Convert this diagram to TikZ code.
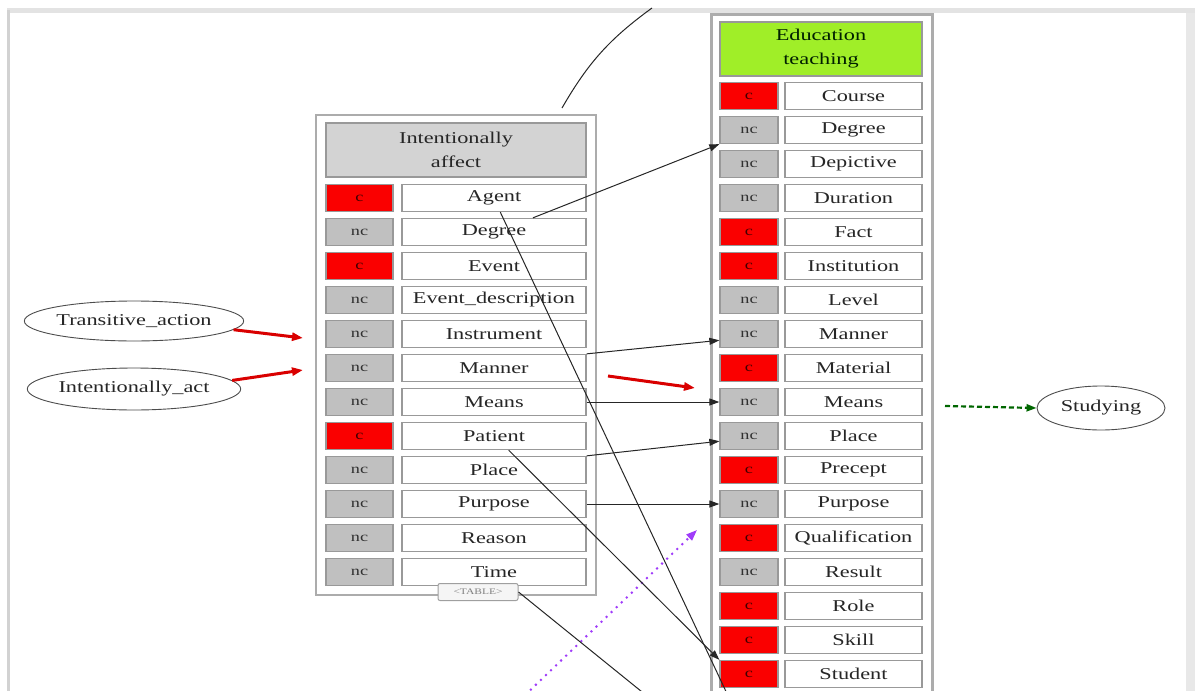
\documentclass[tikz,border=0pt]{standalone}
\usepackage{fontspec}
\setmainfont{Liberation Serif}[FakeStretch=1.35]
\usetikzlibrary{arrows.meta,positioning,shapes.geometric}
\definecolor{cred}{RGB}{250,0,0}
\definecolor{cgray}{RGB}{192,192,192}
\definecolor{hgray}{RGB}{211,211,211}
\definecolor{hgreen}{RGB}{160,238,40}
\definecolor{violetline}{RGB}{160,60,250}

\begin{document}
\begin{tikzpicture}[
  x=1pt, y=-1pt,
  every node/.style={align=center, inner sep=0pt, font=\fontsize{16.5}{24}\selectfont, text=black!85},
  frame/.style={rectangle, draw=gray!65, line width=2.2pt, fill=white},
  header/.style={rectangle, draw=gray!80, line width=1.4pt, minimum height=54pt},
  keycell/.style={rectangle, draw=gray!80, line width=1.3pt, minimum height=27pt, font=\fontsize{13.5}{15}\selectfont},
  field/.style={rectangle, draw=gray!80, line width=1.3pt, fill=white, minimum height=27pt},
  fe/.style={ellipse, draw=black!70, line width=0.9pt, fill=white},
  link/.style={-{Triangle[length=10pt,width=7pt]}, line width=1pt, black!85},
  inherit/.style={-{Triangle[length=11pt,width=8pt]}, line width=3pt, red!85!black}
]
\useasboundingbox (0,0) rectangle (1195,691);
\clip (0,0) rectangle (1195,691);

% --- SCREEN EDGES ---
\fill[gray!22] (7,8) rectangle (1195,13);
\fill[gray!35] (7,10) rectangle (9.5,691);
\fill[gray!18] (1186,13) rectangle (1195,691);

% --- LEFT FRAME ---
\node[frame, minimum width=280pt, minimum height=480pt] (lframe) at (456,355) {};
\node[header, fill=hgray, minimum width=260pt] (lhead) at (456,150) {Intentionally\\affect};
\foreach \name/\col/\kind/\txt [count=\i from 0] in {
    Agent/cred/c/Agent, Degree/cgray/nc/Degree, Event/cred/c/Event,
    EventDesc/cgray/nc/Event\_description, Instrument/cgray/nc/Instrument,
    Manner/cgray/nc/Manner, Means/cgray/nc/Means, Patient/cred/c/Patient,
    Place/cgray/nc/Place, Purpose/cgray/nc/Purpose, Reason/cgray/nc/Reason,
    Time/cgray/nc/Time} {
  \node[keycell, fill=\col, text=\col!25!black, minimum width=67pt] (l\name K) at (359.5,198+34*\i) {\kind};
  \node[field, minimum width=184pt] (l\name) at (494,198+34*\i) {\txt};
}
\node[rectangle, rounded corners=2pt, draw=gray!75, line width=1pt, fill=gray!8, minimum width=80pt, minimum height=17pt,
      font=\fontsize{8.5}{9}\selectfont, text=gray] (tableTag) at (478,592) {\textless TABLE\textgreater};

% --- RIGHT FRAME ---
\node[frame, line width=3pt, minimum width=221pt, minimum height=700pt] (rframe) at (821.5,364) {};
\node[header, fill=hgreen, text=black!70!green!40!black, minimum width=202pt] (rhead) at (821,49) {Education\\teaching};
\foreach \name/\col/\kind [count=\i from 0] in {
    Course/cred/c, Degree/cgray/nc, Depictive/cgray/nc, Duration/cgray/nc,
    Fact/cred/c, Institution/cred/c, Level/cgray/nc, Manner/cgray/nc,
    Material/cred/c, Means/cgray/nc, Place/cgray/nc, Precept/cred/c,
    Purpose/cgray/nc, Qualification/cred/c, Result/cgray/nc, Role/cred/c,
    Skill/cred/c, Student/cred/c} {
  \node[keycell, fill=\col, text=\col!25!black, minimum width=58pt] (r\name K) at (749,96+34*\i) {\kind};
  \node[field, minimum width=137pt] (r\name) at (853.5,96+34*\i) {\name};
}

% --- OTHER FRAMES ---
\node[fe, minimum width=205pt, minimum height=40pt] (transAct) at (134,321) {Transitive\_action};
\node[fe, minimum width=205pt, minimum height=42pt] (intAct) at (134,389) {Intentionally\_act};
\node[fe, minimum width=128pt, minimum height=44pt] (studying) at (1101,408) {Studying};

% --- FREE ENDS ---
\coordinate (inA) at (303,338);
\coordinate (inB) at (303,370);
\coordinate (midA) at (608,376);
\coordinate (midB) at (695,388);
\coordinate (useA) at (945,406);
\coordinate (purA) at (520,700);
\coordinate (purB) at (697,530);
\coordinate (topA) at (562,108);
\coordinate (topB) at (652,8);
\coordinate (offA) at (730,700);
\coordinate (offB) at (652,700);

% --- INHERITANCE AND USES ---
\draw[inherit] (transAct.-5) -- (inA);
\draw[inherit] (intAct.5) -- (inB);
\draw[inherit] (midA) -- (midB);
\draw[-{Triangle[length=10pt,width=7pt]}, line width=2.2pt, green!40!black, dash pattern=on 5pt off 3pt] (useA) -- (studying.west);
\draw[-{Triangle[length=11pt,width=8pt]}, line width=2pt, violetline, dash pattern=on 2pt off 5pt] (purA) -- (purB);

% --- FE MAPPINGS ---
\draw[link] (lDegree.20) -- (rDegreeK.south west);
\draw[link] (lManner.north east) -- (rMannerK.192);
\draw[link] (lMeans.east) -- (rMeansK.west);
\draw[link] (lPlace.north east) -- (rPlaceK.190);
\draw[link] (lPurpose.east) -- (rPurposeK.west);
\draw[link] (lPatient.-44) -- (rStudentK.north west);
\draw[line width=1pt, black!85] (lAgent.-66) -- (offA);
\draw[line width=1pt, black!85] (tableTag.east) -- (offB);
\draw[line width=1pt, black!85] (topA) to[bend left=12] (topB);

\end{tikzpicture}
\end{document}
